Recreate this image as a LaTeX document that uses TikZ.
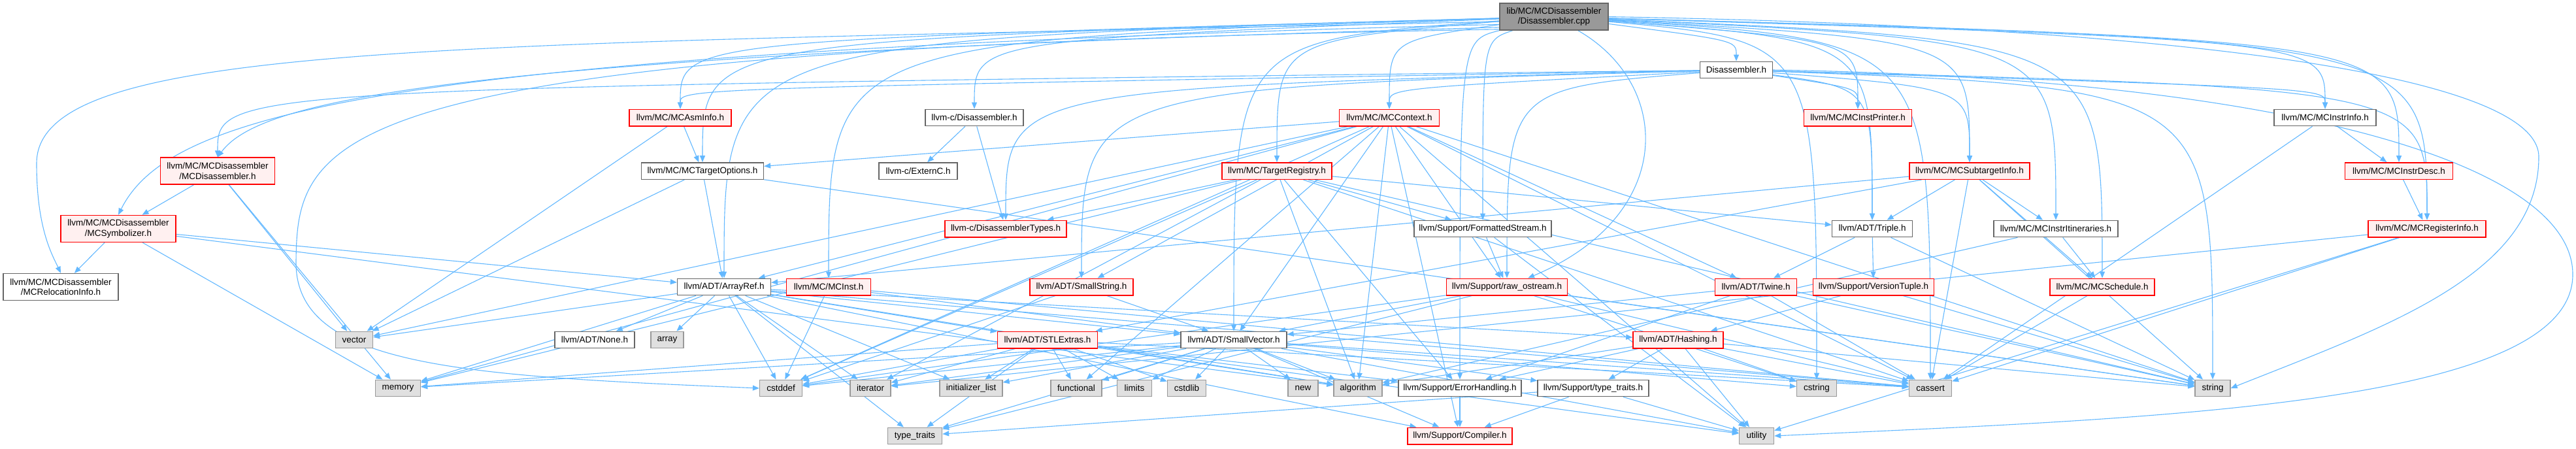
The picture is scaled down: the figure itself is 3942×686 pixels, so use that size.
\documentclass[tikz,border=0pt]{standalone}
\usepackage{fontspec}
\setmainfont{Liberation Sans}
\usetikzlibrary{arrows.meta,backgrounds}
\definecolor{ecol}{HTML}{63B8FF}
\definecolor{redb}{HTML}{FF0000}
\definecolor{redf}{HTML}{FFF0F0}
\definecolor{grayf}{HTML}{E0E0E0}
\definecolor{grayb}{HTML}{999999}
\definecolor{rootf}{HTML}{999999}
\definecolor{bord}{HTML}{666666}
\begin{document}
\begin{tikzpicture}[x=1pt,y=-1pt,
  nd/.style={draw, font=\fontsize{13.5}{15.5}\selectfont, inner sep=0pt, minimum height=25.5pt, align=center, line width=1.3pt, text=black},
  wn/.style={nd, draw=bord, fill=white},
  rn/.style={nd, draw=redb, fill=redf, line width=1.5pt},
  gn/.style={nd, draw=grayb, fill=grayf},
  rootn/.style={nd, draw=bord, fill=rootf},
  tall/.style={minimum height=41pt},
  e/.style={draw=ecol, line width=1.1pt, -{Triangle[length=10pt,width=8pt]}}]
\useasboundingbox (0,0) rectangle (3942,686);
% row 0
\node[rootn, tall, minimum width=166pt] (cpp) at (2378,25.6) {lib/MC/MCDisassembler\\/Disassembler.cpp};
% row 1
\node[wn, minimum width=111pt] (dh) at (2657,107) {Disassembler.h};
% row 2
\node[rn, minimum width=156pt] (asm) at (1041,180) {llvm/MC/MCAsmInfo.h};
\node[wn, minimum width=150pt] (cdis) at (1491,180) {llvm-c/Disassembler.h};
\node[rn, minimum width=153pt] (ctx) at (2126,180) {llvm/MC/MCContext.h};
\node[rn, minimum width=165pt] (iprint) at (2843,180) {llvm/MC/MCInstPrinter.h};
\node[wn, minimum width=156pt] (iinfo) at (3558,180) {llvm/MC/MCInstrInfo.h};
% row 3
\node[rn, tall, minimum width=175pt] (mcdis) at (333,261.6) {llvm/MC/MCDisassembler\\/MCDisassembler.h};
\node[wn, minimum width=187pt] (topt) at (1075,261.6) {llvm/MC/MCTargetOptions.h};
\node[wn, minimum width=120pt] (externc) at (1405,261.6) {llvm-c/ExternC.h};
\node[rn, minimum width=168pt] (treg) at (1954,261.6) {llvm/MC/TargetRegistry.h};
\node[rn, minimum width=184pt] (sti) at (3014,261.6) {llvm/MC/MCSubtargetInfo.h};
\node[rn, minimum width=165pt] (idesc) at (3671,261.6) {llvm/MC/MCInstrDesc.h};
% row 4
\node[rn, tall, minimum width=176pt] (symb) at (181,350) {llvm/MC/MCDisassembler\\/MCSymbolizer.h};
\node[rn, minimum width=186pt] (dtypes) at (1539,350) {llvm-c/DisassemblerTypes.h};
\node[wn, minimum width=210pt] (fstream) at (2269,350) {llvm/Support/FormattedStream.h};
\node[wn, minimum width=123pt] (triple) at (2865,350) {llvm/ADT/Triple.h};
\node[wn, minimum width=190pt] (itin) at (3146,350) {llvm/MC/MCInstrItineraries.h};
\node[rn, minimum width=180pt] (reginfo) at (3714,350) {llvm/MC/MCRegisterInfo.h};
% row 5
\node[wn, tall, minimum width=176pt] (reloc) at (93,439) {llvm/MC/MCDisassembler\\/MCRelocationInfo.h};
\node[wn, minimum width=143pt] (aref) at (1108,439) {llvm/ADT/ArrayRef.h};
\node[rn, minimum width=129pt] (inst) at (1268,439) {llvm/MC/MCInst.h};
\node[rn, minimum width=158pt] (sstr) at (1655,439) {llvm/ADT/SmallString.h};
\node[rn, minimum width=185pt] (raw) at (2306,439) {llvm/Support/raw\_ostream.h};
\node[rn, minimum width=125pt] (twine) at (2687,439) {llvm/ADT/Twine.h};
\node[rn, minimum width=185pt] (vtuple) at (2867,439) {llvm/Support/VersionTuple.h};
\node[rn, minimum width=160pt] (sched) at (3217,439) {llvm/MC/MCSchedule.h};
% row 6
\node[gn, minimum width=57pt] (vector) at (542,520) {vector};
\node[wn, minimum width=122pt] (none) at (910,520) {llvm/ADT/None.h};
\node[gn, minimum width=50pt] (array) at (1021,520) {array};
\node[rn, minimum width=153pt] (stl) at (1603,520) {llvm/ADT/STLExtras.h};
\node[wn, minimum width=162pt] (svec) at (1888,520) {llvm/ADT/SmallVector.h};
\node[rn, minimum width=138pt] (hash) at (2568,520) {llvm/ADT/Hashing.h};
% row 7
\node[gn, minimum width=69pt] (memory) at (609,594) {memory};
\node[gn, minimum width=65pt] (cstddef) at (1195,594) {cstddef};
\node[gn, minimum width=62pt] (iterator) at (1332,594) {iterator};
\node[gn, minimum width=96pt] (initlist) at (1486,594) {initializer\_list};
\node[gn, minimum width=78pt] (functional) at (1647,594) {functional};
\node[gn, minimum width=53pt] (limits) at (1736,594) {limits};
\node[gn, minimum width=59pt] (cstdlib) at (1816,594) {cstdlib};
\node[gn, minimum width=46pt] (new) at (1994,594) {new};
\node[gn, minimum width=74pt] (algorithm) at (2078,594) {algorithm};
\node[wn, minimum width=188pt] (errh) at (2234,594) {llvm/Support/ErrorHandling.h};
\node[wn, minimum width=170pt] (ttraitsh) at (2438,594) {llvm/Support/type\_traits.h};
\node[gn, minimum width=61pt] (cstring) at (2780,594) {cstring};
\node[gn, minimum width=65pt] (cassert) at (2954,594) {cassert};
\node[gn, minimum width=54pt] (string) at (3386,594) {string};
% row 8
\node[gn, minimum width=83pt] (typetraits) at (1400,667) {type\_traits};
\node[rn, minimum width=160pt] (compiler) at (2234,667) {llvm/Support/Compiler.h};
\node[gn, minimum width=53pt] (utility) at (2688,667) {utility};

\begin{pgfonlayer}{background}
% edges leaving the root run nearly level, then drop into their target
\foreach \t in {dh, cdis, aref, svec, triple, asm, ctx, inst, iprint, idesc, iinfo, itin, reginfo, sched, sti, topt, treg, errh, fstream, cassert, cstring}
  \draw[e] (cpp) .. controls (\t.north |- 0,62) .. (\t);
\foreach \t in {dtypes, sstr, triple, asm, ctx, mcdis, iprint, iinfo, reginfo, sti, raw, string}
  \draw[e] (dh) .. controls (\t.north |- 0,135) .. (\t);
\foreach \s/\t in {cdis/dtypes, cdis/externc, asm/topt, asm/vector,
  ctx/aref, ctx/sstr, ctx/svec, ctx/twine, ctx/topt, ctx/compiler, ctx/raw, ctx/algorithm, ctx/cassert, ctx/cstddef, ctx/functional, ctx/memory, ctx/string, ctx/utility, ctx/vector,
  iinfo/idesc, iinfo/cassert, mcdis/symb, mcdis/memory, mcdis/vector, topt/aref, topt/vector, topt/string,
  treg/dtypes, treg/triple, treg/fstream, treg/errh, treg/algorithm, treg/cassert, treg/cstddef, treg/iterator, treg/memory, treg/string,
  sti/triple, sti/itin, sti/sched, sti/aref, sti/stl, sti/string, sti/cassert, idesc/reginfo,
  symb/reloc, symb/aref, symb/algorithm, symb/memory, fstream/raw, fstream/utility,
  triple/twine, triple/vtuple, triple/string, itin/sched, itin/algorithm,
  reginfo/iterator, reginfo/cassert, reginfo/utility,
  aref/hash, aref/none, aref/stl, aref/svec, aref/compiler, aref/algorithm, aref/array, aref/cassert, aref/cstddef, aref/initlist, aref/iterator, aref/memory, aref/typetraits, aref/vector,
  inst/svec, inst/cassert, inst/cstddef, sstr/svec, sstr/cstddef,
  raw/svec, raw/cassert, raw/cstddef, raw/cstring, raw/string, raw/typetraits,
  twine/svec, twine/errh, twine/cassert, twine/string, vtuple/hash, vtuple/string, sched/cassert,
  stl/errh, stl/algorithm, stl/cassert, stl/cstddef, stl/cstdlib, stl/functional, stl/initlist, stl/iterator, stl/limits, stl/memory, stl/typetraits, stl/utility,
  svec/compiler, svec/ttraitsh, svec/algorithm, svec/cassert, svec/cstddef, svec/cstdlib, svec/cstring, svec/functional, svec/initlist, svec/iterator, svec/limits, svec/memory, svec/new, svec/typetraits, svec/utility,
  hash/errh, hash/ttraitsh, hash/algorithm, hash/cassert, hash/cstring, hash/string, hash/utility,
  errh/compiler, ttraitsh/compiler, ttraitsh/typetraits, ttraitsh/utility}
  \draw[e] (\s) -- (\t);
\draw[e] (cpp.185) .. controls (700,70) and (56,60) .. (56,250) .. controls (56,350) and (80,390) .. (reloc.north);
\draw[e] (cpp.188) .. controls (600,80) and (260,170) .. (symb.north);
\draw[e] (cpp.191) .. controls (700,85) and (400,150) .. (mcdis.north);
\draw[e] (cpp.193) .. controls (500,75) and (455,200) .. (453,400) .. controls (451,560) and (700,575) .. (cstddef.west);
\draw[e] (cpp.east) .. controls (3300,40) and (3885,110) .. (3885,240) .. controls (3885,420) and (3650,500) .. (string.east);
\draw[e] (dh.east) .. controls (3500,120) and (3937,250) .. (3937,420) .. controls (3937,620) and (3300,640) .. (utility.east);
\draw[e] (cpp) .. controls (2560,130) and (2565,330) .. (raw);
\end{pgfonlayer}
\end{tikzpicture}
\end{document}
